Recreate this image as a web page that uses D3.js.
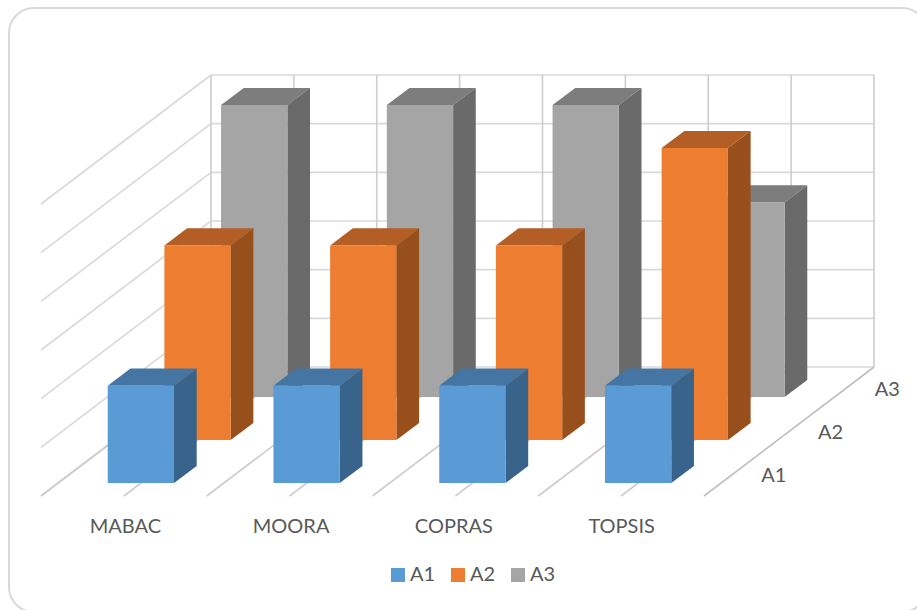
<!DOCTYPE html>
<html><head><meta charset="utf-8">
<script src="https://cdn.jsdelivr.net/npm/d3@7/dist/d3.min.js"></script>
<style>html,body{margin:0;padding:0;background:#fff}svg{display:block}text{font-family:"Lato",sans-serif;fill:#595959}</style>
</head><body><script>
const categories = ["MABAC","MOORA","COPRAS","TOPSIS"];
const seriesNames = ["A1","A2","A3"];
const valuesA1 = [2,2,2,2];
const valuesA2 = [4,4,4,6];
const valuesA3 = [6,6,6,4];
const seriesValues = [valuesA1,valuesA2,valuesA3];
const valueTicks = [0,1,2,3,4,5,6];
const faceColors = ["#5B9BD5","#ED7D31","#A5A5A5"];
const topColors = ["#4575A2","#B35E24","#7D7D7D"];
const sideColors = ["#38648B","#974F1C","#6A6A6A"];

const W=917,H=610;
const svg=d3.select("body").append("svg").attr("width",W).attr("height",H);
const x=d3.scaleBand().domain(categories).range([41,704]).paddingInner(0.6).paddingOuter(0.3);
const xOuter=d3.scaleLinear().domain([0,categories.length]).range([41,704]);
const depth=d3.scaleBand().domain(seriesNames).range([0,1]).paddingInner(0.6).paddingOuter(0.3);
const depthOuter=d3.scaleLinear().domain([0,seriesNames.length]).range([0,1]);
const y=d3.scaleLinear().domain([0,6]).range([0,292]);
const DX=170,DY=129,Y0=496;
const P=(px,d,v)=>[px+d*DX,Y0-d*DY-y(v)];
const poly=(pts,fill)=>svg.append("polygon").attr("points",pts.map(p=>p.join(",")).join(" ")).attr("fill",fill);
const line=(a,b,c,w)=>svg.append("line").attr("x1",a[0]).attr("y1",a[1]).attr("x2",b[0]).attr("y2",b[1]).attr("stroke",c).attr("stroke-width",w);

// card
svg.append("rect").attr("x",9).attr("y",8).attr("width",918).attr("height",604).attr("rx",25).attr("fill","#fff").attr("stroke","#D9D9D9").attr("stroke-width",2);

valueTicks.forEach(v=>{
  line(P(41,0,v),P(41,1,v),"#D9D9D9",1.6);
  line(P(41,1,v),P(704,1,v),"#D9D9D9",1.6);
});
d3.range(0,categories.length+0.25,0.5).forEach(t=>{
  const px=xOuter(t);
  line(P(px,1,0),P(px,1,6),"#CDCDCD",1.6);
  line(P(px,0,0),P(px,1,0),t===4?"#BFBFBF":"#CDCDCD",1.6);
});

[2,1,0].forEach(s=>{
  categories.forEach((c,i)=>{
    const v=seriesValues[s][i];
    const x0=x(c),x1=x0+x.bandwidth();
    const d0=depth(seriesNames[s]),d1=d0+depth.bandwidth();
    poly([P(x0,d0,v),P(x1,d0,v),P(x1,d1,v),P(x0,d1,v)],topColors[s]);
    poly([P(x1,d0,0),P(x1,d1,0),P(x1,d1,v),P(x1,d0,v)],sideColors[s]);
    poly([P(x0,d0,0),P(x1,d0,0),P(x1,d0,v),P(x0,d0,v)],faceColors[s]);
  });
});

const labelNudge=[1.5,1.5,-1.5,0.5];
categories.forEach((c,i)=>{
  svg.append("text").attr("x",xOuter(i+0.5)+labelNudge[i]).attr("y",533).attr("text-anchor","middle").attr("font-size",20).text(c);
});
seriesNames.forEach((s,i)=>{
  const p=P(704,depthOuter(i+0.5),0);
  svg.append("text").attr("x",p[0]+29).attr("y",p[1]+7).attr("font-size",20).text(s);
});
const legendX=[391,451,511];
seriesNames.forEach((s,i)=>{
  svg.append("rect").attr("x",legendX[i]).attr("y",568).attr("width",14).attr("height",14).attr("fill",faceColors[i]);
  svg.append("text").attr("x",legendX[i]+19).attr("y",581).attr("font-size",20).text(s);
});
</script></body></html>
